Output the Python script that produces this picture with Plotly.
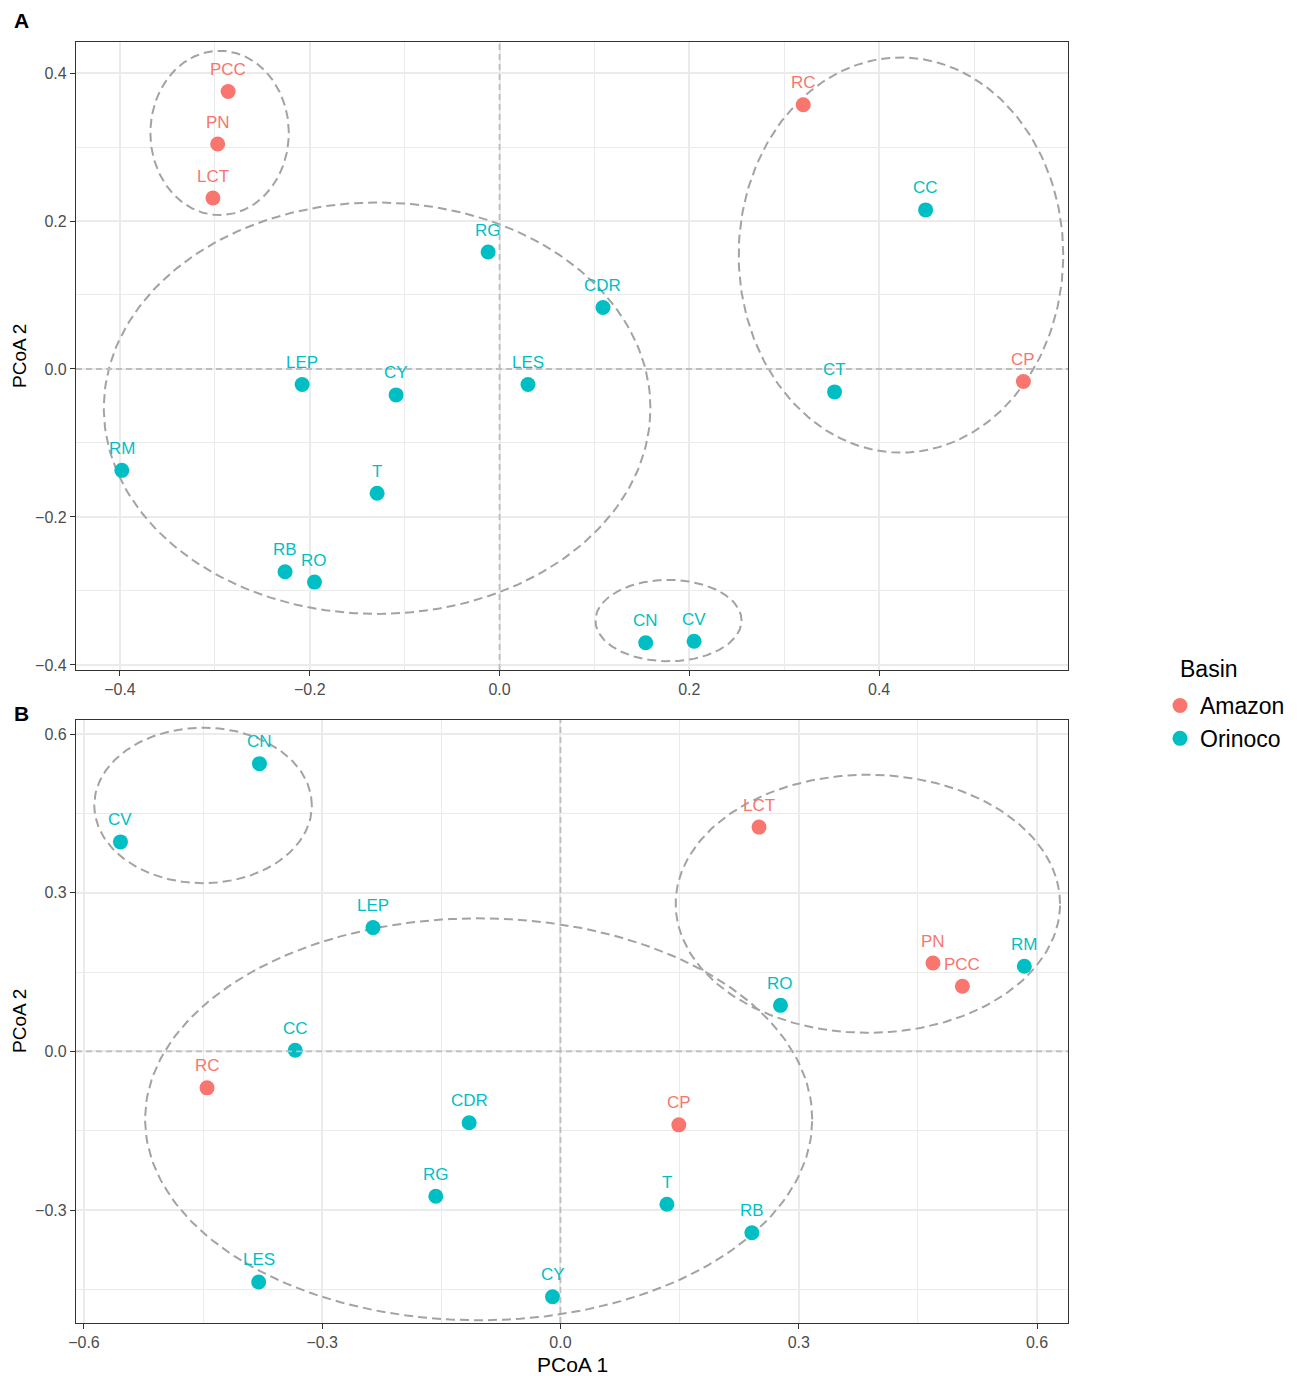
import numpy as np
import plotly.graph_objects as go
from plotly.subplots import make_subplots

# 사이트 / 유역
sites = ["PCC", "PN", "LCT", "RC", "CC", "RG", "CDR", "LEP", "CY",
         "LES", "CT", "CP", "RM", "T", "RB", "RO", "CN", "CV"]
basin = ["Amazon", "Amazon", "Amazon", "Amazon", "Orinoco", "Orinoco",
         "Orinoco", "Orinoco", "Orinoco", "Orinoco", "Orinoco", "Amazon",
         "Orinoco", "Orinoco", "Orinoco", "Orinoco", "Orinoco", "Orinoco"]

# 패널 A 좌표
pcoa1_a = [-0.286, -0.297, -0.302, 0.320, 0.449, -0.012, 0.109, -0.208, -0.109,
           0.030, 0.353, 0.552, -0.398, -0.129, -0.226, -0.195, 0.154, 0.205]
pcoa2_a = [0.375, 0.304, 0.231, 0.357, 0.215, 0.158, 0.083, -0.021, -0.035,
           -0.021, -0.031, -0.017, -0.137, -0.168, -0.274, -0.288, -0.370, -0.368]

# 패널 B 좌표 (CT 없음)
pcoa1_b = [0.506, 0.469, 0.250, -0.445, -0.334, -0.157, -0.115, -0.236, -0.010,
           -0.380, None, 0.149, 0.584, 0.134, 0.241, 0.277, -0.379, -0.554]
pcoa2_b = [0.123, 0.167, 0.424, -0.069, 0.002, -0.274, -0.135, 0.234, -0.464,
           -0.436, None, -0.139, 0.161, -0.289, -0.343, 0.087, 0.544, 0.396]

# 군집 타원 (중심 x, 중심 y, 반경 x, 반경 y)
ell_cx_a = [-0.295, -0.129, 0.423, 0.178]
ell_cy_a = [0.319, -0.053, 0.154, -0.340]
ell_rx_a = [0.073, 0.288, 0.171, 0.077]
ell_ry_a = [0.111, 0.278, 0.267, 0.055]

ell_cx_b = [-0.450, 0.387, -0.103]
ell_cy_b = [0.465, 0.279, -0.1285]
ell_rx_b = [0.137, 0.242, 0.420]
ell_ry_b = [0.147, 0.244, 0.380]

colors = {"Amazon": "#F8766D", "Orinoco": "#00BFC4"}
FONT = "Liberation Sans, Arial, sans-serif"
W, H = 1299, 1376
OFF = 8  # 페이지 body 여백


def fx(p):
    return (p - OFF) / W


def fy(p):
    return 1 - (p - OFF) / H


fig = make_subplots(rows=2, cols=1)

t = np.linspace(0, 2 * np.pi, 240)


def add_panel(row, xs, ys, cxs, cys, rxs, rys, show_legend):
    # 타원
    for cx, cy, rx, ry in zip(cxs, cys, rxs, rys):
        fig.add_trace(go.Scatter(
            x=cx + rx * np.cos(t), y=cy + ry * np.sin(t), mode="lines",
            line=dict(color="#A3A3A3", width=2, dash="9px,5px"),
            hoverinfo="skip", showlegend=False), row=row, col=1)
    # 점
    for b in ["Amazon", "Orinoco"]:
        px_ = [x for x, bb in zip(xs, basin) if bb == b and x is not None]
        py_ = [y for y, bb, x in zip(ys, basin, xs) if bb == b and x is not None]
        fig.add_trace(go.Scatter(
            x=px_, y=py_, mode="markers", name=b, legendgroup=b,
            marker=dict(color=colors[b], size=15),
            showlegend=show_legend), row=row, col=1)
    # 라벨
    xref = "x" if row == 1 else "x2"
    yref = "y" if row == 1 else "y2"
    for s, b, x, y in zip(sites, basin, xs, ys):
        if x is None:
            continue
        fig.add_annotation(x=x, y=y, xref=xref, yref=yref, text=s,
                           showarrow=False, yshift=22,
                           font=dict(family=FONT, size=17, color=colors[b]))


add_panel(1, pcoa1_a, pcoa2_a, ell_cx_a, ell_cy_a, ell_rx_a, ell_ry_a, True)
add_panel(2, pcoa1_b, pcoa2_b, ell_cx_b, ell_cy_b, ell_rx_b, ell_ry_b, False)

# 0 기준선
for r in [1, 2]:
    fig.add_hline(y=0, line=dict(color="#BDBDBD", width=1.8, dash="6px,4px"), row=r, col=1)
    fig.add_vline(x=0, line=dict(color="#BDBDBD", width=1.8, dash="6px,4px"), row=r, col=1)

axis_style = dict(showline=True, mirror=True, linecolor="#333333", linewidth=1.3,
                  ticks="outside", ticklen=5, tickcolor="#333333", tickwidth=1.3,
                  showgrid=True, gridcolor="#EBEBEB", gridwidth=2,
                  zeroline=False, automargin=False, tickformat=".1f",
                  tickfont=dict(family=FONT, size=16, color="#4D4D4D"))
minor_style = dict(showgrid=True, gridcolor="#EBEBEB", gridwidth=1.2)

fig.update_xaxes(axis_style)
fig.update_yaxes(axis_style)
fig.update_xaxes(domain=[fx(76), fx(1068)], range=[-0.4463, 0.599], dtick=0.2, tick0=0,
                 minor=dict(minor_style, dtick=0.1), row=1, col=1)
fig.update_yaxes(domain=[fy(670), fy(42)], range=[-0.4068, 0.4419], dtick=0.2, tick0=0,
                 minor=dict(minor_style, dtick=0.1), row=1, col=1)
fig.update_xaxes(domain=[fx(76), fx(1068)], range=[-0.610, 0.639], dtick=0.3, tick0=0,
                 minor=dict(minor_style, dtick=0.15), row=2, col=1)
fig.update_yaxes(domain=[fy(1323), fy(720)], range=[-0.5136, 0.6265], dtick=0.3, tick0=0,
                 minor=dict(minor_style, dtick=0.15), row=2, col=1)

# 패널 제목 / 축 제목
ann = dict(xref="paper", yref="paper", showarrow=False)
fig.add_annotation(ann, x=fx(21), y=fy(21), text="<b>A</b>", xanchor="center", yanchor="middle",
                   font=dict(family=FONT, size=21, color="black"))
fig.add_annotation(ann, x=fx(21), y=fy(713), text="<b>B</b>", xanchor="center", yanchor="middle",
                   font=dict(family=FONT, size=21, color="black"))
for yc in [356, 1021]:
    fig.add_annotation(ann, x=fx(19), y=fy(yc), text="PCoA 2", textangle=-90,
                       xanchor="center", yanchor="middle",
                       font=dict(family=FONT, size=19, color="black"))
fig.add_annotation(ann, x=fx(572), y=fy(1364), text="PCoA 1",
                   xanchor="center", yanchor="middle",
                   font=dict(family=FONT, size=21, color="black"))
fig.add_annotation(ann, x=fx(1178), y=fy(669), text="Basin",
                   xanchor="left", yanchor="middle",
                   font=dict(family=FONT, size=23, color="black"))

fig.update_layout(
    width=W, height=H,
    margin=dict(l=0, r=0, t=0, b=0),
    plot_bgcolor="white", paper_bgcolor="white",
    font=dict(family=FONT),
    legend=dict(font=dict(size=23, color="black"),
                x=fx(1160), y=fy(684), xanchor="left", yanchor="top",
                bgcolor="rgba(0,0,0,0)", tracegroupgap=0),
)

fig.write_html("out.html")
